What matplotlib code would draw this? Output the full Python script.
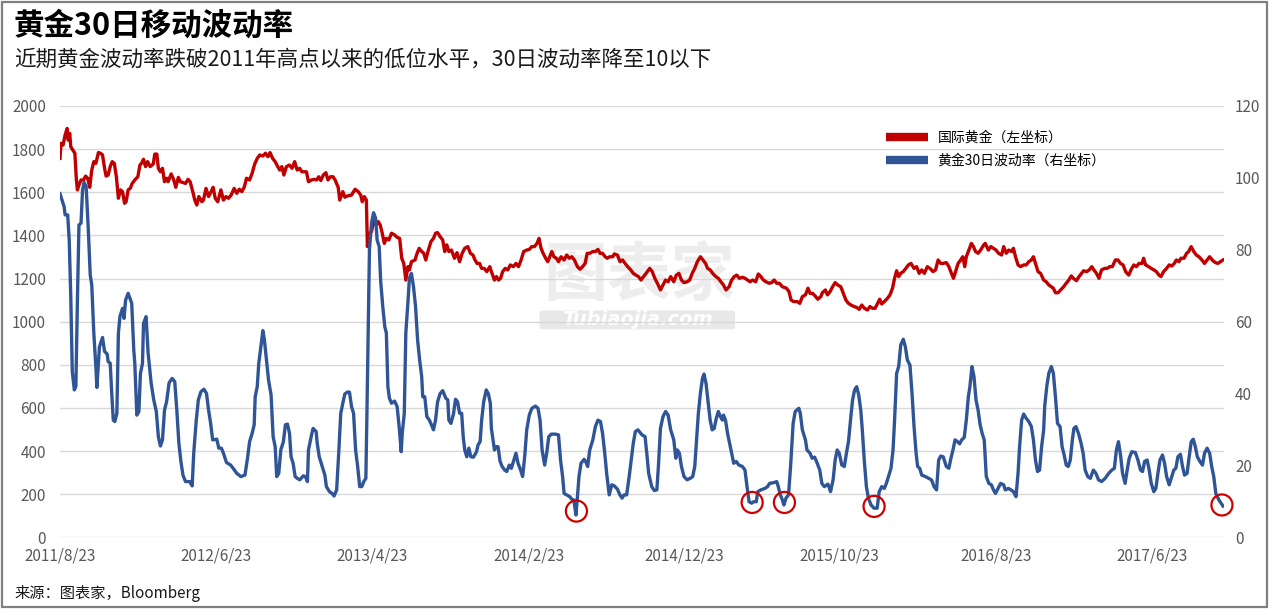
import matplotlib
matplotlib.use('Agg')
import matplotlib.pyplot as plt
import pandas as pd
from matplotlib.lines import Line2D
from matplotlib.patches import Rectangle, FancyBboxPatch

plt.rcParams['font.family'] = ['Noto Sans CJK SC', 'DejaVu Sans']

start = pd.Timestamp('2011-08-23')

# International gold price (left axis), day offsets from 2011-08-23
gold_days = [0,2,6,10,14,16,19,21,25,29,32,34,37,41,46,50,54,58,62,66,
             70,75,79,83,87,90,94,98,102,106,110,114,118,122,126,129,133,137,141,146,
             152,156,159,163,167,171,176,182,185,189,192,196,200,204,208,211,217,222,226,231,
             235,240,245,250,254,260,263,267,271,277,
             280,285,290,295,299,303,308,314,319,324,329,334,340,345,350,355,360,364,370,375,
             380,385,390,396,401,406,410,415,420,425,429,433,437,442,448,453,458,463,468,472,
             478,481,485,491,496,501,505,509,514,519,523,528,533,537,543,546,552,556,561,
             569,576,582,587,590,594,598,600,604,608,613,617,621,625,629,633,637,642,647,653,
             658,663,667,671,675,679,682,686,693,697,701,706,710,714,719,724,729,733,737,742,
             747,751,755,759,764,770,775,780,785,790,796,801,806,810,814,819,823,828,833,839,
             842,848,
             852,856,860,864,869,874,879,885,890,895,900,905,911,916,921,926,931,935,939,943,
             948,952,956,960,964,969,973,978,984,989,994,999,1004,1010,1015,1020,1025,1029,1034,1040,
             1045,1050,1054,1059,1064,1068,1073,1079,1082,1088,1093,1098,1103,1108,1114,1119,1124,
             1129,1134,1139,1144,1151,1156,1161,1166,1172,1177,1182,1187,1192,1198,1203,1208,1213,1218,1224,1229,
             1234,1239,1244,1250,1255,1260,1264,1269,1274,1280,1285,1290,1295,1300,1306,1311,1316,1321,1326,1332,
             1337,1342,1347,1352,1358,1363,1368,1373,1378,1384,1389,1394,1399,1404,1410,
             1418,1423,1427,1432,1439,1444,1449,1455,1460,1464,1469,1474,1479,1485,1488,1494,1498,1503,1508,1513,
             1518,1524,1529,1534,1539,1544,1550,1555,1560,1565,1570,1576,1581,1586,1591,1596,1600,1604,1609,1615,
             1620,1625,1629,1633,1637,1641,1646,1651,1656,1661,1667,1672,1677,1682,1687,1693,
             1698,1704,1709,1714,1719,1724,1730,1735,1740,1744,1748,1753,1758,1762,1766,1769,1774,1779,1783,1787,
             1792,1797,1803,1806,1812,1817,1822,1827,1832,1838,1842,1847,1852,1857,1861,1865,1870,1875,1881,1886,
             1891,1896,1900,1904,1909,1914,1920,1925,1930,1935,1939,1943,1948,1953,1959,1964,1969,1974,
             1978,1984,1989,1994,1998,2004,2009,2014,2018,2023,2028,2033,2039,2044,2049,2054,2060,2065,2070,2075,
             2080,2086,2091,2096,2101,2106,2112,2115,2119,2125,2130,2135,2140,2145,2149,2154,2160,2165,2170,2175,
             2179,2184,2188,2194,2199,2203,2208,2213,2218,2223,2229,2234,2239,2244,2249,2255,2260,2265,2270]
gold_values = [1757,1827,1819,1866,1896,1842,1873,1811,1796,1781,1657,1611,1634,1657,1657,1675,1665,1623,1703,1742,
               1734,1784,1781,1773,1711,1675,1680,1719,1742,1734,1672,1572,1611,1603,1549,1556,1611,1618,1641,1657,
               1672,1726,1734,1753,1719,1742,1719,1731,1777,1777,1711,1695,1711,1649,1665,1649,1685,1657,1623,1669,
               1649,1645,1641,1660,1649,1595,1564,1541,1580,1556,
               1564,1618,1580,1603,1623,1572,1556,1611,1564,1580,1572,1587,1618,1595,1614,1603,1626,1665,1657,1688,
               1731,1757,1773,1768,1781,1765,1784,1757,1742,1719,1703,1719,1680,1719,1726,1711,1742,1703,1711,1695,
               1695,1695,1649,1657,1660,1657,1672,1654,1680,1691,1657,1672,1672,1657,1623,1564,1603,1577,1583,
               1587,1614,1603,1587,1556,1580,1564,1348,1410,1417,1479,1448,1464,1448,1410,1363,1386,1379,1410,1402,
               1391,1386,1294,1270,1193,1255,1240,1278,1286,1317,1340,1325,1317,1286,1332,1371,1386,1410,1413,1394,
               1379,1325,1356,1325,1332,1294,1320,1278,1317,1340,1348,1317,1309,1286,1270,1270,1247,1247,1232,1255,
               1232,1193,
               1209,1193,1201,1232,1247,1240,1263,1255,1270,1255,1286,1325,1332,1335,1348,1348,1363,1386,1340,1317,
               1294,1278,1301,1325,1301,1294,1278,1301,1286,1309,1294,1301,1286,1255,1243,1255,1270,1317,1317,1325,
               1325,1335,1317,1317,1301,1294,1301,1301,1314,1309,1278,1286,1270,1255,1240,1224,1216,
               1209,1193,1209,1224,1247,1232,1201,1178,1147,1170,1193,1185,1209,1185,1216,1224,1193,1181,1185,1193,
               1224,1247,1278,1301,1286,1270,1247,1240,1224,1209,1201,1185,1170,1147,1162,1193,1209,1216,1201,1206,
               1201,1193,1185,1193,1185,1221,1209,1193,1185,1178,1181,1193,1178,1178,1162,
               1155,1139,1100,1093,1093,1085,1116,1124,1155,1131,1131,1119,1104,1116,1134,1147,1124,1139,1162,1181,
               1170,1162,1131,1100,1085,1077,1070,1066,1057,1077,1062,1054,1070,1062,1062,1085,1104,1082,1093,1108,
               1124,1155,1201,1236,1209,1224,1232,1247,1263,1270,1247,1255,1224,1240,1224,1255,
               1247,1232,1240,1286,1270,1270,1274,1255,1224,1201,1232,1270,1286,1301,1255,1301,1332,1363,1348,1325,
               1317,1332,1356,1363,1332,1348,1340,1332,1317,1309,1348,1317,1332,1325,1340,1301,1263,1255,1263,1263,
               1278,1286,1301,1270,1232,1224,1193,1185,1170,1162,1155,1134,1134,1147,1162,1178,1193,1212,
               1201,1190,1209,1224,1236,1232,1240,1255,1240,1224,1201,1240,1247,1247,1255,1255,1286,1286,1270,1263,
               1232,1216,1243,1263,1255,1270,1270,1294,1263,1255,1247,1240,1232,1216,1209,1232,1247,1263,1258,1270,
               1286,1278,1294,1294,1317,1325,1348,1325,1309,1301,1286,1270,1286,1301,1286,1274,1270,1278,1286]

# Gold 30-day volatility (right axis), day offsets from 2011-08-23
vol_days = [0,5,8,10,15,18,21,24,28,31,34,37,41,44,47,51,55,59,62,66,
            70,72,75,77,83,87,92,94,98,101,104,107,111,114,117,122,125,128,133,140,
            144,146,150,154,157,161,163,168,172,178,183,188,192,196,200,204,208,213,219,224,
            228,232,236,240,245,253,258,261,266,270,275,
            281,286,290,294,298,306,310,315,319,325,333,338,345,353,361,366,370,375,379,381,
            385,388,392,396,399,403,407,412,416,420,423,427,431,436,440,444,448,451,455,459,
            463,468,475,479,483,485,491,494,500,502,506,511,517,520,526,531,535,540,544,548,
            552,556,561,
            565,569,573,577,581,585,589,593,597,599,602,604,608,612,616,619,623,626,630,634,
            637,640,643,647,653,658,662,666,668,672,675,679,682,686,690,694,698,702,706,708,
            712,716,721,725,729,733,737,742,747,753,757,759,763,768,772,776,780,784,787,790,
            794,798,802,807,813,816,820,823,827,832,836,840,842,848,
            851,855,859,863,868,872,877,881,886,890,894,899,903,907,911,916,921,928,933,937,
            941,946,950,954,959,967,973,977,981,984,989,995,1000,1003,1007,1010,1013,1017,1023,1026,
            1030,1034,1040,1045,1050,1055,1059,1063,1067,1072,1077,1082,1088,1093,1097,1101,1106,1111,1115,1119,
            1123,1128,
            1136,1142,1146,1149,1155,1160,1165,1168,1172,1177,1182,1187,1192,1198,1202,1205,1209,1213,1218,1224,
            1230,1235,1239,1243,1246,1250,1254,1257,1261,1265,1269,1273,1277,1281,1285,1289,1293,1295,1299,1303,
            1307,1311,1315,1320,1325,1332,1337,1341,1345,1350,1354,1359,1362,1368,1376,1381,1385,1393,1399,1402,
            1406,1410,
            1413,1417,1422,1426,1429,1431,1435,1442,1445,1449,1455,1458,1464,1468,1473,1478,1483,1487,1492,1499,
            1504,1509,1513,1517,1521,1526,1531,1535,1539,1543,1547,1551,1555,1559,1563,1566,1570,1574,1578,1583,
            1589,1595,1599,1604,1609,1613,1617,1622,1626,1629,1633,1637,1641,1646,1650,1654,1659,1663,1667,1671,
            1674,1678,1682,1689,
            1701,1706,1711,1715,1719,1724,1730,1735,1739,1743,1747,1752,1756,1760,1765,1769,1773,1776,1780,1784,
            1788,1792,1796,1800,1804,1808,1813,1818,1822,1826,1831,1836,1842,1845,1851,1856,1861,1866,1870,1873,
            1877,1881,1886,1891,1896,1900,1904,1908,1912,1916,1920,1922,1926,1930,1935,1939,1943,1947,1952,1956,
            1960,1964,1968,1972,1976,1979,
            1983,1988,1993,1997,2001,2006,2011,2017,2022,2027,2033,2040,2047,2053,2058,2062,2066,2070,2074,2079,
            2083,2087,2092,2099,2104,2109,2113,2117,2122,2126,2130,2135,2139,2143,2147,2152,2156,2160,2165,2170,
            2174,2178,2182,2187,2191,2195,2200,2204,2208,2212,2216,2220,2225,2230,2234,2239,2244,2248,2252,2256,
            2262,2270]
vol_values = [95.6,93.4,92,89.7,89.7,82.7,67,46,41,42,66,86.9,87.4,96.6,98.7,97.6,86.4,73,70.2,56.8,
              47.5,41.7,48.4,53,55.6,51.7,51,48.9,48.4,40,32.6,32.2,34.5,56.8,61.4,63.7,60.9,66,67.9,65.1,
              52.1,48.4,34,35,45.6,48.4,59.5,61.4,51.2,42.8,38.2,35,28,25.4,27.1,35.4,37.7,43,44.2,43.3,
              35.4,26.2,21.1,17.3,15.5,15.5,14.3,23.4,32.6,38.2,40.5,
              41.2,40,35.4,31.7,27.1,27.3,24.8,24.8,23.4,20.8,20.1,19.2,17.8,16.9,17.3,22,26.6,28.9,31.3,39.1,
              41.9,48.4,53,57.5,54.9,49.3,43.8,39.6,28,25.2,16.9,17.8,24.3,26.6,31.3,31.5,28.9,22.4,20.6,16.9,
              16.4,16,17.1,16.9,15.5,24.3,28.5,30.3,29.4,26.2,22.4,20.1,17.3,14.1,12.7,12.2,11.5,13.2,23.4,34.5,
              37.3,39.9,40.4,
              40.4,36.4,34.5,24.3,19.7,14.1,14.1,15.5,16.4,33.6,62.3,80,87.4,90.3,88.8,82.7,80.9,71.1,64.2,58.6,
              56.8,41.9,38.7,37.3,37.9,36.4,30.8,23.8,28.9,34.5,56.8,65.1,72.1,73.4,69.7,64.2,54.9,49.3,44.7,39.1,
              39.1,33.6,32.6,31.3,29.9,32.6,37.7,40,40.8,38.7,38.2,32.6,31.7,34.3,38.4,37.7,34.5,34.5,28,24.3,
              22.4,24.8,22.4,22.3,23.8,25.7,26.6,32.6,37.7,41,40,37.3,30.3,24.3,
              25.2,25.2,21.1,19.7,18.7,18.3,20.1,19.2,21.5,23.4,20.6,18.7,16.9,22.4,29.9,34,35.9,36.5,35.9,32.6,
              24.3,20.1,23.4,28,28.7,28.7,28.5,21.5,16.9,12.2,11.8,11.3,10.4,10.4,6.2,11.3,16.9,20.6,21.7,21.1,
              19.7,24.3,27.1,30.8,32.6,32.2,28.9,23.8,17.8,11.8,14.6,14.3,13.4,11.8,10.9,11.8,11.8,16.9,21.5,26.2,
              29.4,29.9,
              28.5,28,22.4,17.8,14.1,13,13.2,19.7,30.3,33.6,35,34,29.9,27.1,22,24.3,23.4,19.7,16.9,16,
              16.4,16.9,19.7,28,34.5,40.1,44.2,45.4,42.8,37.7,32.6,29.9,30.3,33.1,35,33.6,32.6,34,32.6,28.9,
              26.2,23.4,20.6,21.1,20.1,19.7,18.7,14.1,9.9,9.5,9.9,9.9,12.7,13.2,13.6,14.1,15,15.2,15.5,14.1,
              11.8,10.4,
              9,10.9,11.8,19.7,27.1,31.7,35,35.9,34.5,29.9,27.1,24.3,23.4,22,22.3,20.6,18.7,15,14.1,14.8,
              12.7,16,21.5,24.3,23.4,20.1,19.7,23.4,26.6,32.6,38.2,41,41.9,39.6,35.4,29.9,21.1,14.1,10.9,9,
              8.1,8.1,12.7,14.1,13.6,15,16.9,19.2,24.3,32.6,45.6,47.5,53.5,55.1,53,49.3,47.9,40.1,30.8,23.4,
              19.7,19.2,17.3,16.9,
              16,14.1,13.2,21.5,22.6,22.4,19.7,19.2,22,24.3,27.1,26.6,26,27.1,27.8,32.6,39.1,41.9,47.5,44.7,
              38.2,35.4,31.3,28.9,27.1,16.9,15,14.6,13.2,12.2,13.6,15,14.6,13.2,13.6,13.2,12.7,11.3,17.8,25.2,
              32.6,34.3,33.1,32.2,30.8,27.1,21.5,18.3,18.7,25.2,29.9,36.4,41.9,45.6,47.5,45.6,39.1,31.7,30.8,25.2,
              22.9,20.1,19.7,21.5,27.1,30.3,
              30.8,28.9,26.2,23.4,18.7,16.9,16.4,18.7,17.8,16,15.5,16.4,17.8,18.7,19.2,24.3,26.6,22.9,17.8,15,
              18.7,22,23.8,23.6,21.5,18.7,18.3,21.1,21.5,18.7,15,12.7,13.6,17.8,21.5,22.9,20.6,16.9,14.6,16.9,
              18.7,19.2,22.4,23.1,19.7,17.3,17.8,22.4,26.6,27.3,25.2,22.4,21.1,20.1,23.4,24.8,23.4,19.7,16.9,12.2,
              10.4,8.7]

# Highlighted volatility lows (red circles)
circle_days = [1008, 1351, 1414, 1589, 2268]
circle_values = [7.3, 9.7, 9.7, 8.6, 9.0]

tick_dates = ['2011-08-23', '2012-06-23', '2013-04-23', '2014-02-23',
              '2014-12-23', '2015-10-23', '2016-08-23', '2017-06-23']
tick_labels = ['2011/8/23', '2012/6/23', '2013/4/23', '2014/2/23',
               '2014/12/23', '2015/10/23', '2016/8/23', '2017/6/23']

title = '黄金30日移动波动率'
subtitle = '近期黄金波动率跌破2011年高点以来的低位水平，30日波动率降至10以下'
source = '来源：图表家，Bloomberg'
legend_labels = ['国际黄金（左坐标）', '黄金30日波动率（右坐标）']

RED = '#C00000'
BLUE = '#2F5597'
GRAY = '#595959'

gold_dates = start + pd.to_timedelta(gold_days, unit='D')
vol_dates = start + pd.to_timedelta(vol_days, unit='D')
circle_dates = start + pd.to_timedelta(circle_days, unit='D')

W, H = 1270, 612
fig = plt.figure(figsize=(W / 100, H / 100), dpi=100)
ax = fig.add_axes([60 / W, 1 - 537.3 / H, 1164 / W, 431.3 / H])
ax2 = ax.twinx()

# watermark
ax.text(0.498, 0.605, '图表家', transform=ax.transAxes, ha='center', va='center',
        fontsize=46, fontweight='bold', color='#ededed', zorder=0)
bar = FancyBboxPatch((0.412, 0.482), 0.168, 0.044, transform=ax.transAxes,
                     boxstyle='round,pad=0.0,rounding_size=0.005',
                     facecolor='#e8e8e8', edgecolor='none', zorder=0)
ax.add_patch(bar)
ax.text(0.496, 0.504, 'Tubiaojia.com', transform=ax.transAxes, ha='center', va='center',
        fontsize=14, fontweight='bold', fontstyle='italic', color='white', zorder=0.5,
        family=['DejaVu Sans'])

ax.plot(gold_dates, gold_values, color=RED, linewidth=2.4, zorder=3, solid_joinstyle='round')
ax2.plot(vol_dates, vol_values, color=BLUE, linewidth=2.4, zorder=3, solid_joinstyle='round')
ax2.scatter(circle_dates, circle_values, s=230, facecolors='none', edgecolors='#D00000',
            linewidths=1.6, zorder=4, clip_on=False)

ax.set_ylim(0, 2000)
ax.set_yticks(range(0, 2001, 200))
ax2.set_ylim(0, 120)
ax2.set_yticks(range(0, 121, 20))
ax.set_xlim(start, start + pd.Timedelta(days=2272))
ax.set_xticks(pd.to_datetime(tick_dates))
ax.set_xticklabels(tick_labels)

ax.grid(axis='y', color='#d9d9d9', linewidth=1.0)
ax.set_axisbelow(True)
for a in (ax, ax2):
    for s in a.spines.values():
        s.set_visible(False)
ax.tick_params(axis='y', length=0, pad=10, labelsize=11, labelcolor=GRAY)
ax.tick_params(axis='x', length=0, pad=7, labelsize=11, labelcolor=GRAY)
ax2.tick_params(axis='y', length=0, pad=8, labelsize=11, labelcolor=GRAY)

handles = [Line2D([], [], color=RED, linewidth=6, solid_capstyle='butt'),
           Line2D([], [], color=BLUE, linewidth=6, solid_capstyle='butt')]
ax2.legend(handles, legend_labels, loc='upper left', bbox_to_anchor=(0.7096, 0.942),
           frameon=False, fontsize=10, handlelength=3.0, handletextpad=0.7,
           labelspacing=0.65, borderaxespad=0, borderpad=0)

fig.text(14 / W, 1 - 26 / H, title, fontsize=22, fontweight='bold', va='center', ha='left')
fig.text(14 / W, 1 - 60 / H, subtitle, fontsize=15.5, va='center', ha='left', color='#1a1a1a')
fig.text(14 / W, 1 - 593 / H, source, fontsize=11, va='center', ha='left', color='#1a1a1a')

fig.patches.append(Rectangle((2 / W, 5 / H), 1265 / W, 605 / H, transform=fig.transFigure,
                             fill=False, edgecolor='#808080', linewidth=1.6))

fig.savefig('out.png', dpi=100)
